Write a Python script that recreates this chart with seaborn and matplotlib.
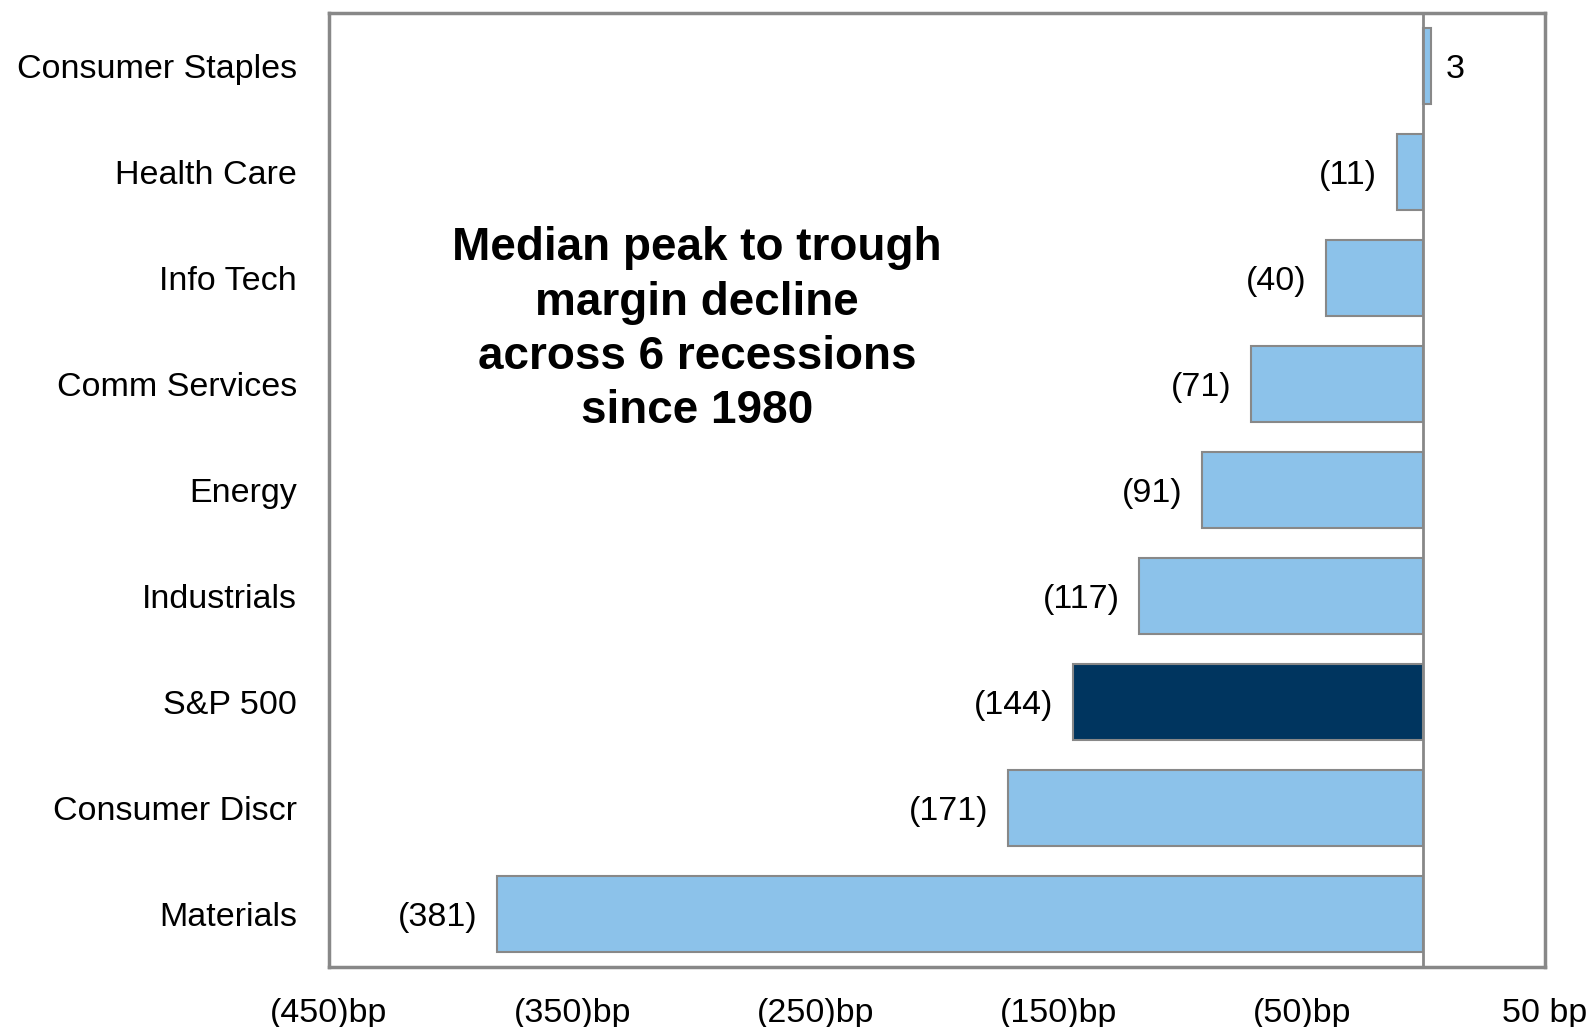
import matplotlib
matplotlib.use("Agg")
import matplotlib.pyplot as plt
import seaborn as sns
import pandas as pd

# Sector margin declines (bp), peak to trough
categories = ["Consumer Staples", "Health Care", "Info Tech", "Comm Services",
              "Energy", "Industrials", "S&P 500", "Consumer Discr", "Materials"]
values = [3, -11, -40, -71, -91, -117, -144, -171, -381]
x_ticks = [-450, -350, -250, -150, -50, 50]
x_tick_labels = ["(450)bp", "(350)bp", "(250)bp", "(150)bp", "(50)bp", "50 bp"]
title_text = "Median peak to trough\nmargin decline\nacross 6 recessions\nsince 1980"

LIGHT = "#8CC2EA"
DARK = "#00355F"
GRAY = "#888888"

sns.set_style("white")
plt.rcParams["font.family"] = ["Liberation Sans", "DejaVu Sans"]

df = pd.DataFrame({"sector": categories, "bp": values})
palette = {c: (DARK if c == "S&P 500" else LIGHT) for c in categories}

fig = plt.figure(figsize=(15.89, 10.27), dpi=100)
ax = fig.add_axes([329 / 1589, 1 - 967 / 1027, (1545 - 329) / 1589, (967 - 13) / 1027])

sns.barplot(data=df, x="bp", y="sector", hue="sector", palette=palette,
            orient="h", width=0.72, edgecolor=GRAY, linewidth=1.5,
            saturation=1, legend=False, ax=ax)

ax.set_xlim(-450, 50)
ax.set_ylim(len(categories) - 0.5, -0.5)
ax.axvline(0, color=GRAY, lw=2, zorder=3)

ax.set_xticks(x_ticks)
ax.set_xticklabels(x_tick_labels, fontsize=24.5)
ax.tick_params(axis="x", length=0, pad=22, labelcolor="black")
ax.tick_params(axis="y", length=0, pad=23, labelsize=24.5, labelcolor="black")
ax.set_xlabel("")
ax.set_ylabel("")

for s in ax.spines.values():
    s.set_visible(True)
    s.set_color(GRAY)
    s.set_linewidth(2.5)

# value labels next to each bar end
for i, v in enumerate(values):
    label = f"({abs(v)})" if v < 0 else f"{v}"
    if v < 0:
        ax.annotate(label, xy=(v, i), xytext=(-14, 0), textcoords="offset points",
                    ha="right", va="center_baseline", fontsize=24.5, color="black")
    else:
        ax.annotate(label, xy=(v, i), xytext=(11, 0), textcoords="offset points",
                    ha="left", va="center_baseline", fontsize=24.5, color="black")

ax.text(0.3026, 0.668, title_text, transform=ax.transAxes, ha="center", va="center",
        fontsize=33, fontweight="bold", linespacing=1.3, color="black")

fig.savefig("out.png", dpi=100)
